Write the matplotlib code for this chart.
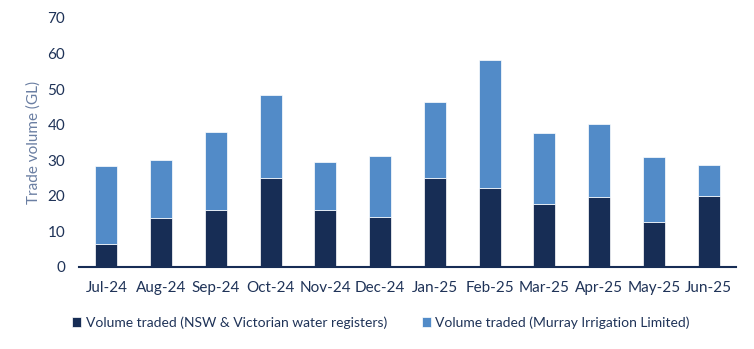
import matplotlib.pyplot as plt
import numpy as np

months = ['Jul-24', 'Aug-24', 'Sep-24', 'Oct-24', 'Nov-24', 'Dec-24',
          'Jan-25', 'Feb-25', 'Mar-25', 'Apr-25', 'May-25', 'Jun-25']
registers = [6.4, 13.7, 15.9, 24.9, 15.9, 14.0, 25.1, 22.2, 17.8, 19.6, 12.7, 20.0]
murray = [21.9, 16.3, 22.0, 23.5, 13.7, 17.2, 21.3, 35.9, 19.9, 20.5, 18.3, 8.6]

dark = '#172D55'
light = '#528BC8'
text_col = '#1F3358'

plt.rcParams['font.family'] = ['Lato', 'DejaVu Sans']

fig = plt.figure(figsize=(7.54, 3.49), dpi=100)
ax = fig.add_axes([0.1048, 0.235, 0.8714, 0.7135])

x = np.arange(len(months))
ax.bar(x, registers, width=0.4, color=dark, edgecolor='white', linewidth=0.5,
       label='Volume traded (NSW & Victorian water registers)')
ax.bar(x, murray, width=0.4, bottom=registers, color=light, edgecolor='white', linewidth=0.5,
       label='Volume traded (Murray Irrigation Limited)')

ax.set_xlim(-0.5, 11.5)
ax.set_ylim(0, 70)
ax.set_yticks(range(0, 71, 10))
ax.set_xticks(x)
ax.set_xticklabels(months)
ax.tick_params(axis='both', length=0, labelsize=11, colors=text_col)
ax.tick_params(axis='y', pad=10)
ax.tick_params(axis='x', pad=10)

for s in ['top', 'right', 'left']:
    ax.spines[s].set_visible(False)
ax.spines['bottom'].set_color(dark)
ax.spines['bottom'].set_linewidth(1.5)

ax.set_ylabel('Trade volume (GL)', color='#6A7EA2', fontsize=11, labelpad=5)

fig.legend(loc='center', bbox_to_anchor=(0.505, 0.075), ncol=2, frameon=False,
           fontsize=10, handlelength=0.7, handleheight=0.7, handletextpad=0.3,
           columnspacing=2.5, labelcolor=text_col)

fig.savefig('out.png', dpi=100)
